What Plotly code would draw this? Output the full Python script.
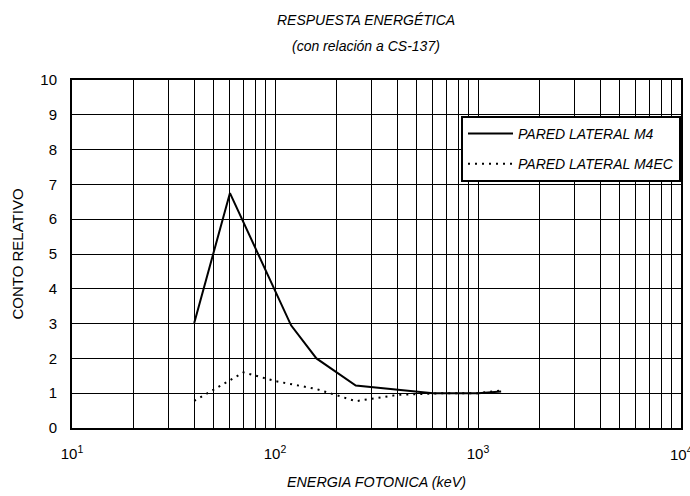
import plotly.graph_objects as go

energy_m4 = [40, 60, 120, 160, 250, 600, 1000, 1300]
resp_m4 = [3.02, 6.75, 2.95, 2.0, 1.22, 1.0, 1.0, 1.05]

energy_m4ec = [40, 70, 100, 160, 250, 400, 662, 1000, 1300]
resp_m4ec = [0.78, 1.6, 1.35, 1.12, 0.77, 0.95, 1.0, 1.0, 1.08]

x_tickvals = [m * 10 ** d for d in range(1, 4) for m in range(1, 10)] + [10000]
x_ticktext = ["10<sup>%d</sup>" % (len(str(v)) - 1) if str(v).strip("0") == "1" else "" for v in x_tickvals]
y_tickvals = list(range(0, 11))

title_lines = ["RESPUESTA ENERGÉTICA", "(con relación a CS-137)"]

FONT = "Liberation Sans, Arial"

fig = go.Figure()
fig.add_trace(go.Scatter(x=energy_m4, y=resp_m4, mode="lines", name="<i>PARED LATERAL M4</i>",
                         legendgroup="a", line=dict(color="black", width=2)))
fig.add_trace(go.Scatter(x=energy_m4ec, y=resp_m4ec, mode="lines", name="<i>PARED LATERAL M4EC</i>",
                         legendgroup="b", line=dict(color="black", width=2, dash="2px,5px")))

for text, ypos in zip(title_lines, [1.172, 1.098]):
    fig.add_annotation(text="<i>%s</i>" % text, xref="paper", yref="paper", x=0.483, y=ypos,
                       showarrow=False, xanchor="center", yanchor="middle", font=dict(size=14))

# last decade label at the right edge (plotly drops it at the range end)
fig.add_annotation(text=x_ticktext[-1], xref="x", yref="paper", x=4, y=-0.072,
                   showarrow=False, xanchor="center", yanchor="middle", font=dict(size=15))

fig.update_layout(
    width=690, height=496,
    margin=dict(l=72, r=9, t=80, b=68),
    paper_bgcolor="white", plot_bgcolor="white",
    font=dict(family=FONT, size=15, color="black"),
    showlegend=True,
    legend=dict(x=1, xanchor="right", y=0.897, yanchor="top", bgcolor="white",
                bordercolor="black", borderwidth=2, font=dict(size=14), itemwidth=45,
                tracegroupgap=9),
    xaxis=dict(type="log", range=[1, 4], tickvals=x_tickvals, ticktext=x_ticktext,
               showgrid=True, gridcolor="black", gridwidth=1, showline=True, linecolor="black",
               linewidth=2, mirror=True, ticks="", zeroline=False, automargin=False,
               ticklabelstandoff=11,
               title=dict(text="<i>ENERGIA FOTONICA (keV)</i>", standoff=16, font=dict(size=14.3)),
               tickfont=dict(size=15)),
    yaxis=dict(range=[0, 10], tickvals=y_tickvals, showgrid=True, gridcolor="black", gridwidth=1,
               showline=True, linecolor="black", linewidth=2, mirror=True, ticks="", zeroline=False,
               automargin=False, ticklabelstandoff=10,
               title=dict(text="CONTO RELATIVO", standoff=13, font=dict(size=15)),
               tickfont=dict(size=15)),
)

fig.write_html("out.html", config={"displayModeBar": False},
               post_script="document.body.style.margin='0';")
